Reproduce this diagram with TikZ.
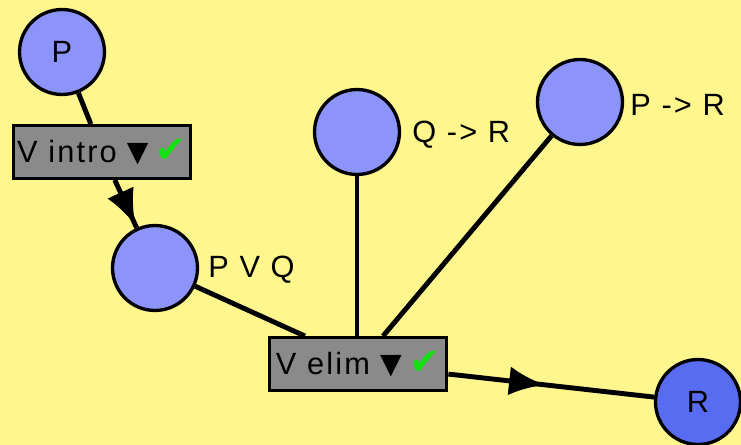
\documentclass[tikz,border=0pt]{standalone}
\usepackage{fontspec}
\setmainfont{Liberation Sans}[LetterSpace=7]
\newfontfamily\symfont{DejaVu Sans}
\usetikzlibrary{arrows.meta, decorations.markings}

\definecolor{bgyellow}{RGB}{255,247,142}
\definecolor{proplight}{RGB}{140,148,250}
\definecolor{propdark}{RGB}{88,108,242}
\definecolor{rulegray}{RGB}{138,138,138}
\definecolor{okgreen}{RGB}{20,225,20}

\newcommand{\rulemark}{\hspace{0.2cm}{\symfont\fontsize{16}{16}\selectfont\raisebox{0.1ex}{▼}}\hspace{0.15cm}{\symfont\fontsize{21}{21}\selectfont\color{okgreen}✔}}

\begin{document}
\begin{tikzpicture}[x=0.02cm, y=-0.02cm, >=Latex,
  font=\fontsize{17.5}{20}\selectfont,
  prop/.style={draw, line width=1.9pt, circle, fill=proplight, minimum size=1.7cm, inner sep=0pt},
  goal/.style={prop, fill=propdark},
  rulebox/.style={draw, line width=1.9pt, fill=rulegray, minimum width=3.55cm, minimum height=1.05cm, inner sep=2pt},
  link/.style={line width=2.8pt},
  flow/.style={link, postaction={decorate}, decoration={markings,
    mark=at position #1 with {\arrow{Latex[length=0.72cm, width=0.58cm]}}}},
  lbl/.style={anchor=west, inner sep=0pt}]

% background
\fill[bgyellow] (0,0) rectangle (741,445);
\useasboundingbox (0,0) rectangle (741,445);

% propositions
\node[prop] (p)   at (62,52)   {P};
\node[prop] (pvq) at (155,268) {};
\node[prop] (qr)  at (357,132) {};
\node[prop] (pr)  at (580,102) {};
\node[goal] (r)   at (698,402) {R};

\node[lbl] (pvqlbl) at (208,270) {P V Q};
\node[lbl] (qrlbl)  at (412,135) {Q -> R};
\node[lbl] (prlbl)  at (630,105) {P -> R};

% rules
\node[rulebox] (intro) at (102,152) {V intro\rulemark};
\node[rulebox] (elim)  at (358,364) {V elim\rulemark};

% connectors
\draw[link] (p) -- (intro);
\draw[flow=0.95] (intro) -- (pvq);
\draw[link] (pvq) -- (elim.north west -| 305,0);
\draw[link] (qr) -- (elim.north -| qr);
\draw[link] (pr) -- (elim.north -| 383,0);
\draw[flow=0.47] (elim) -- (r);

\end{tikzpicture}
\end{document}
